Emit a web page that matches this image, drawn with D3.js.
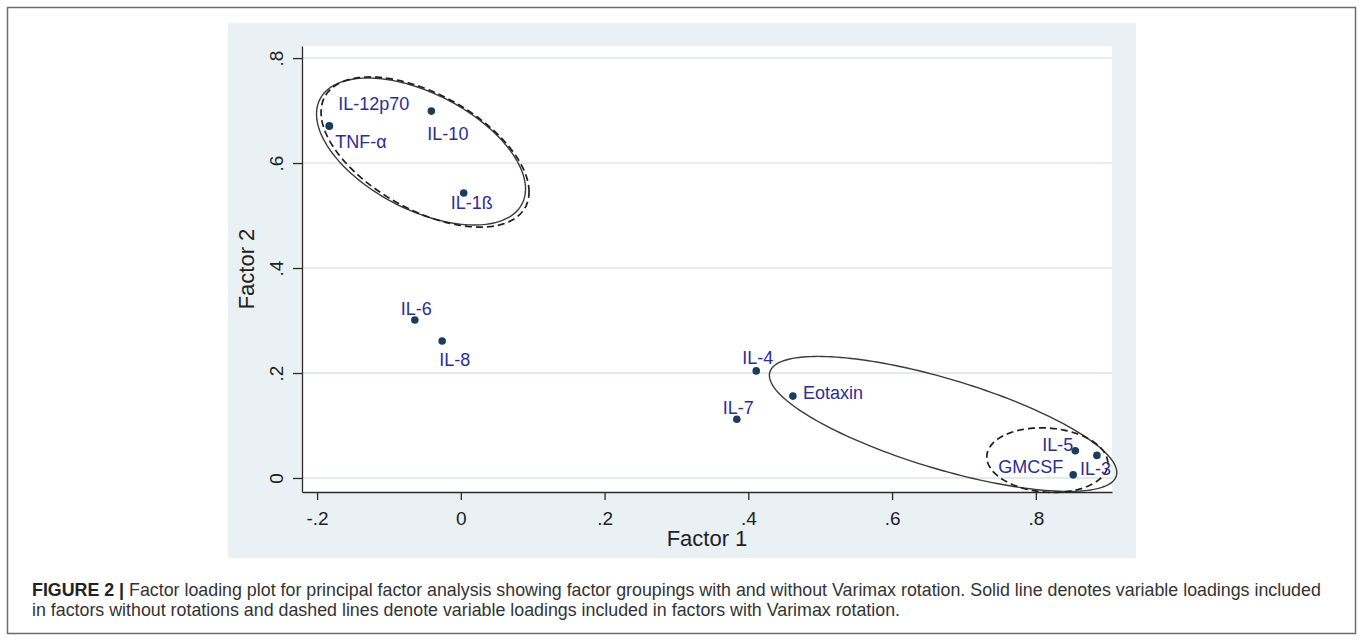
<!DOCTYPE html>
<html>
<head>
<meta charset="utf-8">
<script src="https://cdn.jsdelivr.net/npm/d3@7"></script>
<style>
  body { margin: 0; background: #fff; }
  svg { display: block; font-family: "Liberation Sans", Arial, sans-serif; }
</style>
</head>
<body>
<svg width="1360" height="641"></svg>
<script>
// factor loadings
var names   = ["TNF-α", "IL-12p70", "IL-10", "IL-1ß", "IL-6", "IL-8", "IL-4", "Eotaxin", "IL-7", "IL-5", "IL-3", "GMCSF"];
var factor1 = [-0.183, -0.183, -0.041, 0.004, -0.064, -0.026, 0.411, 0.462, 0.384, 0.855, 0.885, 0.852];
var factor2 = [0.670, 0.671, 0.699, 0.543, 0.301, 0.261, 0.204, 0.156, 0.112, 0.052, 0.043, 0.006];

var xTicks = [-0.2, 0, 0.2, 0.4, 0.6, 0.8];
var yTicks = [0, 0.2, 0.4, 0.6, 0.8];

// grouping ellipses: centre, half extents (data units), tilt, dashed = varimax
var ellCx     = [-0.0554, -0.0498, 0.671, 0.816];
var ellCy     = [0.622, 0.621, 0.103, 0.034];
var ellRx     = [0.1454, 0.1447, 0.2417, 0.0842];
var ellRy     = [0.140, 0.143, 0.1286, 0.0615];
var ellRho    = [-0.51, -0.53, -0.72, -0.10];
var ellDashed = [false, true, false, true];

var caption1 = "Factor loading plot for principal factor analysis showing factor groupings with and without Varimax rotation. Solid line denotes variable loadings included";
var caption2 = "in factors without rotations and dashed lines denote variable loadings included in factors with Varimax rotation.";

var svg = d3.select("svg");

// outer figure frame
svg.append("rect")
  .attr("x", 7.5).attr("y", 7.5).attr("width", 1348).attr("height", 626)
  .attr("fill", "none").attr("stroke", "#6b6b6b").attr("stroke-width", 1.5);

// stata graph region
svg.append("rect")
  .attr("x", 228).attr("y", 23).attr("width", 908).attr("height", 535)
  .attr("fill", "#e9f1f4");

var plot = { left: 302, right: 1112, top: 46, bottom: 492 };

var x = d3.scaleLinear().domain([-0.221, 0.906]).range([plot.left, plot.right]);
var y = d3.scaleLinear().domain([-0.0267, 0.823]).range([plot.bottom, plot.top]);

svg.append("rect")
  .attr("x", plot.left).attr("y", plot.top)
  .attr("width", plot.right - plot.left).attr("height", plot.bottom - plot.top)
  .attr("fill", "#fff");

// horizontal grid
svg.append("g").selectAll("line")
  .data(yTicks).enter().append("line")
  .attr("x1", plot.left).attr("x2", plot.right)
  .attr("y1", d => y(d)).attr("y2", d => y(d))
  .attr("stroke", "#e2ebee").attr("stroke-width", 1.8);

// stata style: no leading zero, plain hyphen
var fmt = d => d === 0 ? "0" : d3.format(".1f")(d).replace("0.", ".").replace("−", "-");

// x axis
var xAxis = svg.append("g")
  .attr("transform", "translate(0," + plot.bottom + ")")
  .call(d3.axisBottom(x).tickValues(xTicks).tickFormat(fmt).tickSize(8).tickSizeOuter(0));
xAxis.select(".domain").attr("stroke", "#2b2b2b").attr("stroke-width", 1.3);
xAxis.selectAll(".tick line").attr("stroke", "#2b2b2b").attr("stroke-width", 1.3);
xAxis.selectAll(".tick text")
  .attr("font-size", 19).attr("fill", "#222").attr("font-family", "Liberation Sans, Arial, sans-serif")
  .attr("dy", null).attr("y", 33);

// y axis
var yAxis = svg.append("g")
  .attr("transform", "translate(" + plot.left + ",0)")
  .call(d3.axisLeft(y).tickValues(yTicks).tickFormat(fmt).tickSize(9).tickSizeOuter(0));
yAxis.select(".domain").attr("stroke", "#2b2b2b").attr("stroke-width", 1.3);
yAxis.selectAll(".tick line").attr("stroke", "#2b2b2b").attr("stroke-width", 1.3);
yAxis.selectAll(".tick text")
  .attr("font-size", 19).attr("fill", "#222").attr("font-family", "Liberation Sans, Arial, sans-serif")
  .attr("x", null).attr("dy", null)
  .attr("text-anchor", "middle")
  .attr("transform", "translate(-19,0) rotate(-90)");

// axis titles
svg.append("text")
  .attr("x", (plot.left + plot.right) / 2).attr("y", 546)
  .attr("text-anchor", "middle").attr("font-size", 22).attr("fill", "#222")
  .text("Factor 1");
svg.append("text")
  .attr("transform", "translate(254," + (plot.top + plot.bottom) / 2 + ") rotate(-90)")
  .attr("text-anchor", "middle").attr("font-size", 22).attr("fill", "#222")
  .text("Factor 2");

// ellipses
var ellLine = d3.line().curve(d3.curveLinearClosed);
ellCx.forEach(function (cx, i) {
  var pts = d3.range(0, 2 * Math.PI, Math.PI / 90).map(function (t) {
    var dx = ellRx[i] * Math.cos(t);
    var dy = ellRy[i] * (ellRho[i] * Math.cos(t) + Math.sqrt(1 - ellRho[i] * ellRho[i]) * Math.sin(t));
    return [x(cx + dx), y(ellCy[i] + dy)];
  });
  svg.append("path")
    .attr("d", ellLine(pts))
    .attr("fill", "none")
    .attr("stroke", ellDashed[i] ? "#1e1e1e" : "#3a3a3a")
    .attr("stroke-width", ellDashed[i] ? 1.7 : 1.4)
    .attr("stroke-dasharray", ellDashed[i] ? "7,4" : null);
});

// points
var pts = names.map((n, i) => ({ name: n, f1: factor1[i], f2: factor2[i] }));

svg.append("g").selectAll("circle")
  .data(pts).enter().append("circle")
  .attr("cx", d => x(d.f1)).attr("cy", d => y(d.f2))
  .attr("r", 3.8)
  .attr("fill", "#1b3c5f");

// marker label placement (pixels from marker)
var place = {
  "TNF-α":    [6, 22, "start"],
  "IL-12p70": [9, -16, "start"],
  "IL-10":    [-4, 29, "start"],
  "IL-1ß":    [-13, 16, "start"],
  "IL-6":     [-14, -5, "start"],
  "IL-8":     [-3, 25, "start"],
  "IL-4":     [-14, -7, "start"],
  "Eotaxin":  [10, 3, "start"],
  "IL-7":     [-14, -5, "start"],
  "IL-5":     [-2, 0, "end"],
  "IL-3":     [-17, 20, "start"],
  "GMCSF":    [-10, -2, "end"]
};

svg.append("g").selectAll("text")
  .data(pts).enter().append("text")
  .attr("x", d => x(d.f1) + place[d.name][0])
  .attr("y", d => y(d.f2) + place[d.name][1])
  .attr("text-anchor", d => place[d.name][2])
  .attr("font-size", 18)
  .attr("fill", "#2c2d92")
  .text(d => d.name);

// caption, sized so the first line spans the frame like the original
var cap = svg.append("g").attr("font-size", 16).attr("fill", "#333");
var l1 = cap.append("text").attr("x", 32).attr("y", 596);
l1.append("tspan").attr("font-weight", "bold").attr("fill", "#222").text("FIGURE 2 | ");
l1.append("tspan").text(caption1);
var l2 = cap.append("text").attr("x", 32).attr("y", 616).text(caption2);
var w = l1.node().getComputedTextLength();
cap.attr("font-size", 16 * 1290 / w);
</script>
</body>
</html>
